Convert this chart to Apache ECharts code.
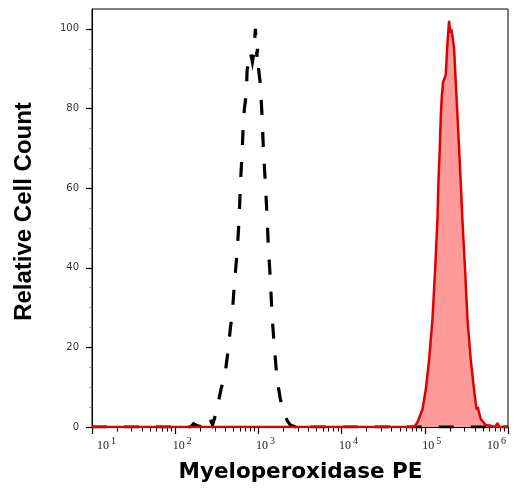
<!DOCTYPE html>
<html>
<head>
<meta charset="utf-8">
<script src="https://cdn.jsdelivr.net/npm/echarts@6/dist/echarts.min.js"></script>
<style>
html,body{margin:0;padding:0;background:#ffffff;}
#chart{width:514px;height:492px;}
</style>
</head>
<body>
<div id="chart"></div>
<script>
// ---- tick definitions ----
const xMajorTicks = [10, 100, 1000, 10000, 100000, 1000000];
const xTickExponents = ['1', '2', '3', '4', '5', '6'];
const yMajorTicks = [0, 20, 40, 60, 80, 100];

// ---- isotype control (black dashed) ----
const isotypeX = [10, 153, 166, 185, 219, 258, 281, 305, 328, 360, 391, 413, 437, 461, 483,
  515, 555, 586, 608, 637, 661, 679, 718, 731, 759, 802, 847, 879, 920, 959, 973, 1009,
  1057, 1107, 1148, 1213, 1271, 1318, 1393, 1459, 1556, 1675, 1837, 1995, 2228, 2421,
  2780, 2938, 3192, 1000000];
const isotypeY = [0, 0, 0.8, 0.3, 0, 2.5, 0.5, 3, 6, 10, 12, 16, 20, 25, 28,
  36, 44, 52, 61, 69, 77, 80, 84, 89.6, 91.3, 94.2, 91.7, 93.8, 100, 93, 95, 89.6,
  86, 78, 70, 61, 53, 45, 37, 28, 20, 12, 7, 4, 1.5, 0.5,
  0, 0.8, 0, 0];

// ---- Myeloperoxidase PE stained (red filled) ----
const mpoX = [10, 74500, 81700, 93800, 102800, 112700, 123600, 133000, 141900, 145900,
  151400, 155600, 160000, 166000, 178600, 187500, 195900, 202300, 208000, 215300,
  224900, 235500, 247200, 258200, 270400, 283100, 304800, 325800, 356500, 390800,
  409300, 420700, 432500, 469900, 539500, 619400, 700000, 746000, 790000, 1000000];
const mpoY = [0, 0, 1.2, 4.4, 9.4, 17, 27, 39.5, 52, 61.6,
  70, 78, 83, 86.7, 88.4, 96.7, 102, 99, 100, 98,
  95, 86.7, 78, 70, 61.6, 52, 39.5, 27, 17, 9.4,
  6, 4.4, 5, 2, 0.5, 0.3, 0, 1, 0, 0];

const xTitle = 'Myeloperoxidase PE';
const yTitle = 'Relative Cell Count';

function zip(xs, ys) { return xs.map((x, i) => [x, ys[i]]); }
const isotypeData = zip(isotypeX, isotypeY);
const mpoData = zip(mpoX, mpoY);

const X_MIN = 10, X_MAX = 1000000, Y_MIN = 0, Y_MAX = 105;

const chart = echarts.init(document.getElementById('chart'), null, {renderer: 'canvas'});

const serif = 'Liberation Serif';
const baseStyle = {fontFamily: serif, fontSize: 12, lineHeight: 12, color: '#222'};
const supStyle = {fontFamily: serif, fontSize: 10, lineHeight: 10, color: '#222'};
const option = {
  animation: false,
  backgroundColor: '#ffffff',
  grid: {
    left: 92, right: 6, top: 9, bottom: 65,
    show: true, borderColor: '#000', borderWidth: 1,
    containLabel: false, outerBoundsMode: 'none'
  },
  xAxis: [
    {
      type: 'log', logBase: 10, min: X_MIN, max: X_MAX, position: 'bottom',
      axisLine: {show: true, onZero: false, lineStyle: {color: '#000', width: 1}},
      axisTick: {show: true, length: 7, lineStyle: {color: '#000', width: 1.2}},
      minorTick: {show: true, splitNumber: 9, length: 4.5, lineStyle: {color: '#000', width: 1}},
      splitLine: {show: false},
      axisLabel: {
        show: true, customValues: xMajorTicks, margin: 11,
        formatter: function (v) {
          let i = xMajorTicks.findIndex(t => Math.abs(t - v) / t < 1e-6);
          if (i < 0) return '';
          const e = xTickExponents[i];
          if (i === 0) return '{bf|10}{s|' + e + '}';
          if (i === xMajorTicks.length - 1) return '{bl|10}{sl|' + e + '}';
          return '{b|10}{s|' + e + '}';
        },
        rich: {
          b:  Object.assign({}, baseStyle, {padding: [3, 0, 0, 14]}),
          bf: Object.assign({}, baseStyle, {padding: [3, 0, 0, 29]}),
          bl: Object.assign({}, baseStyle, {padding: [3, 0, 0, 0]}),
          s:  Object.assign({}, supStyle, {padding: [0, 0, 5, 2]}),
          sl: Object.assign({}, supStyle, {padding: [0, 23, 5, 2]})
        }
      }
    }
  ],
  yAxis: [
    {
      type: 'value', min: Y_MIN, max: Y_MAX, interval: 20, position: 'left',
      axisLine: {show: true, onZero: false, lineStyle: {color: '#000', width: 1}},
      axisTick: {show: true, customValues: yMajorTicks, length: 6, lineStyle: {color: '#000', width: 1.2}},
      minorTick: {show: true, splitNumber: 4, length: 3, lineStyle: {color: '#999', width: 1}},
      splitLine: {show: false},
      axisLabel: {
        show: true, customValues: yMajorTicks, margin: 13,
        fontFamily: 'DejaVu Sans', fontSize: 10, color: '#333'
      }
    }
  ],
  series: [
    {
      name: 'MPO fill', type: 'line', xAxisIndex: 0, yAxisIndex: 0,
      data: mpoData, showSymbol: false, symbol: 'none', silent: true,
      lineStyle: {width: 0, opacity: 0},
      areaStyle: {color: '#ff9a9a', opacity: 1},
      z: 1
    },
    {
      name: 'Isotype control', type: 'line', xAxisIndex: 0, yAxisIndex: 0,
      data: isotypeData, showSymbol: false, symbol: 'none',
      lineStyle: {color: '#000', width: 3.2, type: [15, 17], cap: 'butt', join: 'miter'},
      z: 2
    },
    {
      name: 'Myeloperoxidase PE', type: 'line', xAxisIndex: 0, yAxisIndex: 0,
      data: mpoData, showSymbol: false, symbol: 'none',
      lineStyle: {color: '#e00000', width: 2.5},
      z: 3
    }
  ],
  graphic: [
    {
      type: 'text', x: 300.5, y: 472.6, silent: true,
      style: {text: xTitle, font: 'bold 21.5px "DejaVu Sans"', fill: '#000', align: 'center', verticalAlign: 'middle'}
    },
    {
      type: 'text', x: 24, y: 211.5, rotation: Math.PI / 2, silent: true,
      style: {text: yTitle, font: 'bold 24px "Liberation Sans"', fill: '#000', align: 'center', verticalAlign: 'middle'}
    }
  ]
};
chart.setOption(option);
</script>
</body>
</html>
